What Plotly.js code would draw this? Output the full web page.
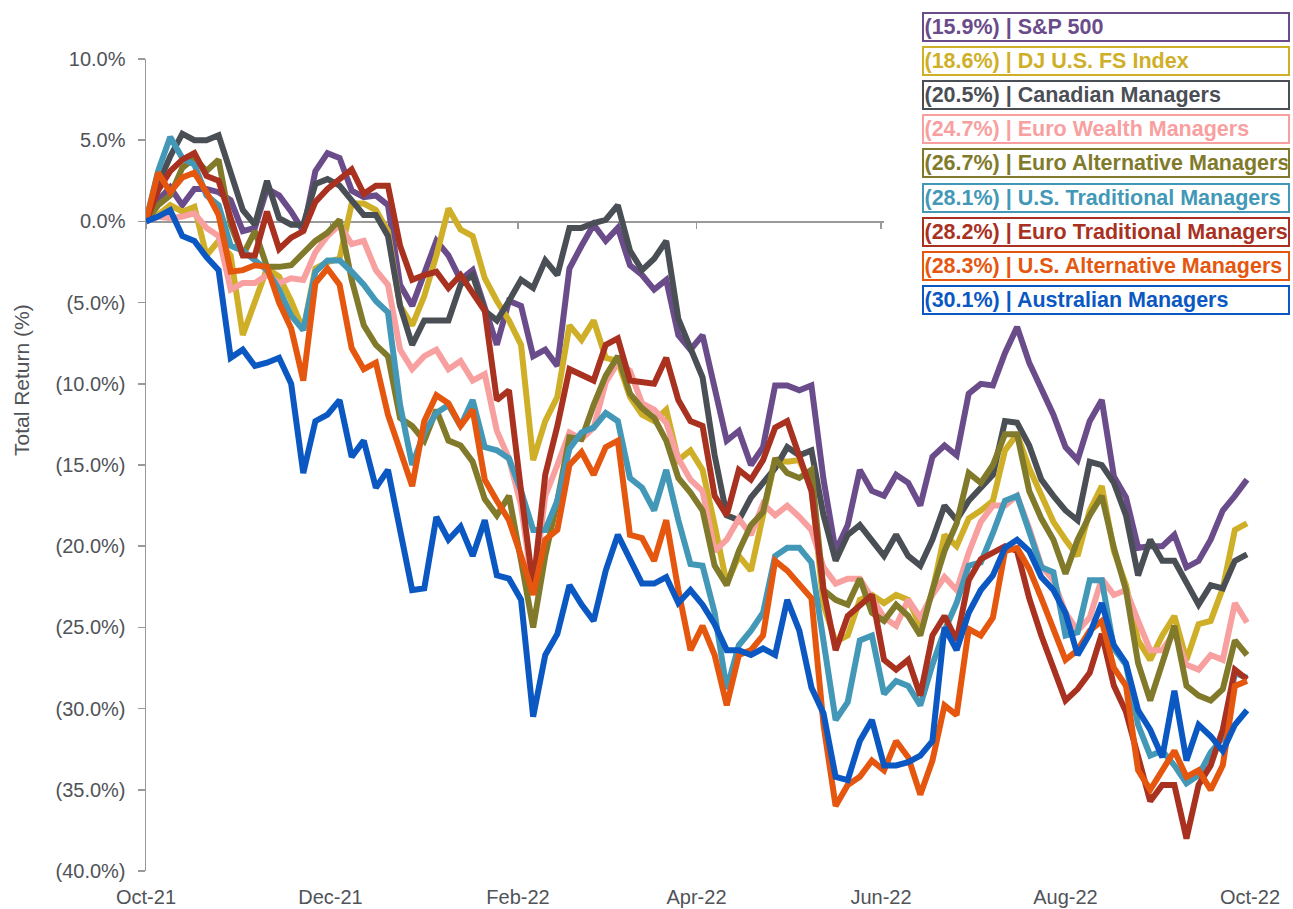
<!DOCTYPE html>
<html><head><meta charset="utf-8">
<script src="https://cdn.plot.ly/plotly-3.0.1.min.js"></script>
<style>html,body{margin:0;padding:0;background:#fff;} #chart{width:1293px;height:909px;}</style>
</head><body><div id="chart"></div>
<script>
const dates = [
'2021-10-01','2021-10-05','2021-10-09','2021-10-13','2021-10-17','2021-10-21','2021-10-25','2021-10-29',
'2021-11-02','2021-11-06','2021-11-10','2021-11-14','2021-11-18','2021-11-22','2021-11-26','2021-11-30',
'2021-12-04','2021-12-08','2021-12-12','2021-12-16','2021-12-20','2021-12-24','2021-12-28',
'2022-01-01','2022-01-05','2022-01-09','2022-01-13','2022-01-17','2022-01-21','2022-01-25','2022-01-29',
'2022-02-02','2022-02-06','2022-02-10','2022-02-14','2022-02-18','2022-02-22','2022-02-26',
'2022-03-02','2022-03-06','2022-03-10','2022-03-14','2022-03-18','2022-03-22','2022-03-26','2022-03-30',
'2022-04-03','2022-04-07','2022-04-11','2022-04-15','2022-04-19','2022-04-23','2022-04-27',
'2022-05-01','2022-05-05','2022-05-09','2022-05-13','2022-05-17','2022-05-21','2022-05-25','2022-05-29',
'2022-06-02','2022-06-06','2022-06-10','2022-06-14','2022-06-18','2022-06-22','2022-06-26','2022-06-30',
'2022-07-04','2022-07-08','2022-07-12','2022-07-16','2022-07-20','2022-07-24','2022-07-28',
'2022-08-01','2022-08-05','2022-08-09','2022-08-13','2022-08-17','2022-08-21','2022-08-25','2022-08-29',
'2022-09-02','2022-09-06','2022-09-10','2022-09-14','2022-09-18','2022-09-22','2022-09-26','2022-09-30'
];

const sp500 = [
0, 1.3, 2.1, 1.0, 2.0, 2.0, 1.8, 1.3, -0.6, -0.4,
2.0, 1.6, 0.6, -0.6, 3.1, 4.2, 3.9, 1.9, 1.5, 1.6,
1.0, -3.9, -5.2, -3.1, -1.2, -2.1, -3.6, -3.0, -5.4, -7.6,
-4.9, -5.2, -8.3, -7.9, -8.9, -2.9, -1.5, -0.2, -1.2, -0.4,
-2.7, -3.3, -4.2, -3.6, -7.0, -7.9, -7.0, -10.1, -13.5, -12.9,
-15.0, -13.9, -10.1, -10.1, -10.4, -10.1, -15.9, -20.3, -18.7, -15.3,
-16.6, -16.9, -15.6, -16.1, -17.5, -14.5, -13.8, -14.4, -10.6, -10.0,
-10.1, -8.1, -6.5, -8.7, -10.4, -11.9, -13.9, -14.7, -12.3, -11.0,
-15.7, -17.0, -20.1, -20.0, -20.0, -19.3, -21.3, -20.9, -19.6, -17.8,
-16.9, -15.9];

const djFs = [
0, 0.4, 1.0, 0.6, 0.9, -2.1, -1.2, -2.1, -7.0, -4.9,
-2.9, -3.4, -4.9, -6.7, -2.9, -2.5, -2.3, 1.1, 1.1, 0.7,
-0.6, -5.2, -6.4, -4.6, -2.1, 0.8, -0.5, -0.9, -3.5, -4.9,
-6.1, -7.6, -14.7, -12.3, -10.8, -6.4, -7.3, -6.1, -8.4, -8.6,
-10.8, -11.9, -12.3, -11.6, -14.7, -14.1, -15.3, -18.7, -22.3, -20.6,
-21.5, -18.1, -14.7, -14.8, -14.7, -16.4, -23.6, -25.9, -25.5, -23.3,
-23.0, -23.5, -23.0, -23.3, -24.9, -22.8, -19.3, -20.0, -18.3, -17.8,
-17.2, -14.1, -13.1, -15.2, -16.9, -18.5, -19.6, -20.6, -17.8, -16.3,
-20.3, -22.4, -25.8, -27.0, -25.5, -24.3, -27.0, -24.8, -24.6, -22.6,
-19.0, -18.6];

const canadian = [
0, 2.3, 4.0, 5.4, 5.0, 5.0, 5.3, 3.1, 0.7, -0.2,
2.5, 0.2, -0.2, -0.2, 2.3, 2.6, 2.2, 1.3, 0.4, 0.4,
-0.9, -5.2, -7.6, -6.1, -6.1, -6.1, -3.9, -3.3, -5.5, -6.1,
-4.9, -3.6, -4.1, -2.4, -3.3, -0.4, -0.4, -0.1, 0.1, 1.0,
-1.8, -3.0, -2.3, -1.2, -6.0, -7.9, -9.6, -14.4, -18.1, -18.4,
-17.0, -16.1, -15.2, -13.9, -14.4, -14.1, -18.1, -20.9, -19.3, -18.7,
-19.6, -20.6, -19.3, -20.6, -21.2, -19.6, -17.5, -18.4, -17.2, -16.4,
-15.6, -12.3, -12.4, -13.8, -15.9, -16.9, -17.8, -18.4, -14.8, -15.0,
-16.1, -18.1, -21.8, -19.6, -20.9, -20.9, -22.3, -23.6, -22.4, -22.6,
-20.9, -20.5];

const euroWealth = [
0, 0.3, 0.2, 0.3, 0.5, -0.4, -0.9, -4.2, -3.8, -3.8,
-3.3, -3.8, -3.5, -3.6, -1.9, -0.9, -0.2, -1.4, -1.2, -3.0,
-3.9, -7.9, -9.1, -8.3, -7.9, -9.1, -8.6, -9.8, -9.4, -12.9,
-14.6, -17.5, -22.8, -16.9, -15.0, -13.0, -13.4, -12.7, -9.9, -8.7,
-9.2, -11.2, -11.6, -12.4, -14.6, -15.9, -16.6, -20.3, -19.6, -18.3,
-19.3, -17.4, -18.1, -17.5, -18.2, -19.0, -21.3, -22.3, -22.0, -22.0,
-23.2, -24.4, -24.9, -23.3, -24.4, -23.0, -21.9, -22.7, -20.4, -18.5,
-17.5, -17.5, -16.9, -18.9, -21.2, -22.1, -24.1, -25.2, -24.4, -22.0,
-23.0, -22.7, -24.6, -26.4, -26.4, -25.3, -27.3, -27.6, -26.7, -27.0,
-23.5, -24.7];

const euroAlt = [
0, 1.0, 1.6, 3.3, 3.9, 3.1, 3.8, -0.2, -2.1, -0.6,
-2.8, -2.8, -2.7, -1.9, -1.2, -0.7, 0.1, -3.6, -6.4, -7.6,
-8.3, -12.1, -12.6, -13.5, -11.6, -13.5, -13.8, -14.8, -17.1, -18.1,
-16.9, -20.9, -25.0, -20.6, -17.2, -13.3, -13.4, -11.3, -9.5, -8.3,
-10.6, -11.5, -12.1, -13.5, -15.8, -16.7, -17.8, -21.2, -22.4, -20.3,
-18.7, -17.9, -14.6, -15.5, -15.8, -15.3, -22.7, -23.3, -23.6, -22.0,
-24.1, -24.6, -23.6, -24.3, -25.5, -22.7, -20.3, -18.6, -15.5, -16.1,
-15.0, -13.1, -13.1, -16.6, -18.3, -19.6, -21.7, -19.6, -18.1, -16.9,
-20.1, -22.7, -27.2, -29.5, -27.3, -24.9, -28.6, -29.2, -29.5, -28.8,
-25.8, -26.7];

const usTrad = [
0, 3.1, 5.2, 3.9, 3.5, 1.6, 1.0, -1.5, -1.8, -2.4,
-3.0, -4.2, -5.8, -6.7, -3.1, -2.4, -2.4, -3.1, -3.9, -4.9,
-5.6, -11.3, -15.0, -13.0, -11.8, -11.3, -12.6, -11.0, -13.9, -14.1,
-14.6, -16.6, -19.0, -19.0, -17.2, -14.0, -13.0, -12.7, -11.8, -12.3,
-15.8, -16.4, -17.8, -15.3, -18.4, -21.1, -21.2, -24.1, -28.8, -26.1,
-25.2, -24.1, -20.6, -20.1, -20.1, -21.0, -26.1, -30.7, -29.6, -25.8,
-25.5, -29.1, -28.3, -28.6, -29.8, -27.3, -25.2, -23.5, -21.2, -21.0,
-19.2, -17.2, -16.9, -19.2, -21.3, -21.6, -25.5, -25.3, -22.1, -22.1,
-26.3, -27.3, -31.0, -32.9, -32.6, -33.5, -34.6, -34.1, -32.7, -31.8,
-27.8, -28.1];

const euroTrad = [
0, 1.9, 3.1, 3.8, 4.2, 2.8, 2.5, 0.1, -2.1, -2.1,
0.6, -1.7, -1.0, -0.6, 1.2, 2.0, 2.6, 3.2, 1.7, 2.2,
2.2, -1.5, -3.6, -3.3, -3.1, -4.1, -3.3, -4.4, -5.5, -11.0,
-10.4, -16.6, -22.5, -15.6, -12.6, -9.1, -9.5, -9.8, -7.6, -7.2,
-9.8, -9.9, -10.0, -8.4, -11.0, -12.3, -12.6, -16.9, -18.1, -15.3,
-15.9, -14.7, -12.7, -12.3, -14.6, -16.6, -22.7, -26.4, -24.3, -23.6,
-23.0, -27.0, -27.6, -27.0, -29.2, -25.5, -24.3, -25.8, -22.1, -20.8,
-20.4, -20.0, -20.3, -23.2, -25.5, -27.5, -29.5, -28.8, -27.8, -25.4,
-28.6, -30.2, -33.1, -35.7, -34.7, -34.7, -38.0, -34.7, -33.5, -31.3,
-27.6, -28.2];

const usAlt = [
0, 3.0, 1.8, 2.7, 3.0, 1.8, 0.4, -3.1, -3.0, -2.7,
-2.8, -5.0, -6.6, -9.8, -3.8, -2.9, -3.9, -7.8, -9.1, -8.7,
-11.9, -14.2, -16.3, -12.3, -10.7, -11.2, -12.6, -11.6, -15.9, -17.2,
-18.4, -20.6, -23.0, -19.6, -19.0, -15.0, -14.2, -15.6, -13.9, -13.5,
-19.3, -19.5, -20.9, -18.4, -22.7, -26.4, -24.9, -26.7, -29.8, -26.7,
-26.4, -25.5, -20.9, -21.5, -22.4, -23.2, -31.0, -36.0, -34.7, -34.2,
-33.2, -33.8, -32.0, -33.0, -35.3, -33.2, -29.8, -30.4, -25.1, -25.5,
-24.4, -20.3, -20.1, -21.4, -23.2, -25.2, -27.0, -26.4, -25.2, -24.6,
-27.5, -28.6, -33.8, -35.0, -33.8, -32.6, -34.2, -33.8, -35.0, -33.5,
-28.6, -28.3];

const australian = [
0, 0.3, 0.7, -0.9, -1.2, -2.2, -3.0, -8.4, -7.9, -8.9,
-8.7, -8.4, -10.0, -15.5, -12.3, -11.9, -11.0, -14.5, -13.5, -16.4,
-15.3, -19.0, -22.7, -22.6, -18.2, -19.6, -18.8, -20.6, -18.4, -21.8,
-22.0, -23.3, -30.5, -26.7, -25.4, -22.4, -23.6, -24.6, -21.5, -19.3,
-20.9, -22.3, -22.3, -21.9, -23.5, -22.7, -23.6, -24.8, -26.4, -26.4,
-26.7, -26.3, -26.7, -23.3, -25.2, -28.7, -30.3, -34.2, -34.4, -32.0,
-30.7, -33.5, -33.5, -33.3, -32.9, -32.0, -25.0, -26.4, -24.1, -22.7,
-21.8, -20.1, -19.6, -20.3, -21.9, -22.7, -24.1, -26.7, -25.4, -23.5,
-26.1, -27.2, -30.1, -31.3, -33.0, -28.9, -33.2, -31.0, -31.7, -32.6,
-31.0, -30.1];

const seriesNames = ['S&P 500','DJ U.S. FS Index','Canadian Managers','Euro Wealth Managers',
  'Euro Alternative Managers','U.S. Traditional Managers','Euro Traditional Managers',
  'U.S. Alternative Managers','Australian Managers'];
const seriesValues = [sp500, djFs, canadian, euroWealth, euroAlt, usTrad, euroTrad, usAlt, australian];
const seriesColors = ['#6A4C8B','#CFAF27','#4A4F55','#F8A09F','#807A2A','#4398B8','#A9311F','#E5570F','#0B58C3'];

const tickDates = ['2021-10-01','2021-12-01','2022-02-01','2022-04-01','2022-06-01','2022-08-01','2022-10-01'];
const tickLabels = ['Oct-21','Dec-21','Feb-22','Apr-22','Jun-22','Aug-22','Oct-22'];
const yTickVals = [10,5,0,-5,-10,-15,-20,-25,-30,-35,-40];
const yTickLabels = ['10.0%','5.0%','0.0%','(5.0%)','(10.0%)','(15.0%)','(20.0%)','(25.0%)','(30.0%)','(35.0%)','(40.0%)'];
const yTitle = 'Total Return (%)';
const xRange = ['2021-10-01','2022-10-01'];

const traces = seriesValues.map((vals, k) => ({
  x: dates, y: vals, type: 'scatter', mode: 'lines', name: seriesNames[k],
  line: {color: seriesColors[k], width: 6}, hoverinfo: 'skip', showlegend: false
}));
traces.push({x: [dates[0]], y: [null], xaxis: 'x2', yaxis: 'y', type: 'scatter', mode: 'lines',
  hoverinfo: 'skip', showlegend: false});

const annotations = seriesNames.map((name, k) => {
  const last = seriesValues[k][seriesValues[k].length - 1];
  return {
    xref: 'paper', yref: 'paper', x: 0.7029, y: 1.0394 - k * 0.042,
    xanchor: 'left', yanchor: 'middle', align: 'left', showarrow: false,
    text: '<b>(' + Math.abs(last).toFixed(1) + '%) | ' + name.replace('&', '&amp;') + '</b>',
    font: {family: 'Liberation Sans, Arial, sans-serif', size: 21.5, color: seriesColors[k]},
    bgcolor: '#ffffff', bordercolor: seriesColors[k], borderwidth: 2, borderpad: 0.5,
    width: 363, height: 25
  };
});

const axisGray = '#9a9a9a';
const textGray = '#505358';
annotations.push({
  xref: 'paper', yref: 'paper', x: -0.1123, y: 0.6047, xanchor: 'center', yanchor: 'middle',
  textangle: -90, showarrow: false, text: yTitle,
  font: {family: 'Liberation Sans, Arial, sans-serif', size: 21, color: textGray}
});

const layout = {
  width: 1293, height: 909,
  margin: {l: 146, r: 43, t: 59, b: 38},
  paper_bgcolor: '#ffffff', plot_bgcolor: '#ffffff',
  showlegend: false,
  font: {family: 'Liberation Sans, Arial, sans-serif', color: textGray},
  xaxis: {type: 'date', range: xRange, tickvals: tickDates, ticktext: tickLabels,
    showgrid: false, zeroline: false, showline: false, ticks: '', ticklabelstandoff: 12,
    tickfont: {size: 20, color: textGray}, fixedrange: true},
  xaxis2: {type: 'date', range: xRange, overlaying: 'x', anchor: 'free', position: 0.8,
    tickvals: tickDates, showticklabels: false, ticks: 'outside', ticklen: 6, tickwidth: 1.5,
    tickcolor: axisGray, showline: true, linecolor: axisGray, linewidth: 1.5,
    showgrid: false, zeroline: false, layer: 'below traces', fixedrange: true},
  yaxis: {range: [-40, 10], tickvals: yTickVals, ticktext: yTickLabels,
    showgrid: false, zeroline: false, showline: true, linecolor: axisGray, linewidth: 1.5,
    ticks: 'outside', ticklen: 7, tickwidth: 1.5, tickcolor: axisGray,
    tickfont: {size: 20, color: textGray}, ticklabelstandoff: 8, fixedrange: true},
  shapes: [{type: 'rect', xref: 'paper', yref: 'paper', x0: 0.6685, x1: 1.06, y0: 0.681, y1: 1.08,
    fillcolor: '#ffffff', line: {width: 0}, layer: 'above'}],
  annotations: annotations
};

Plotly.newPlot('chart', traces, layout, {displayModeBar: false, staticPlot: true});
</script>
</body></html>
